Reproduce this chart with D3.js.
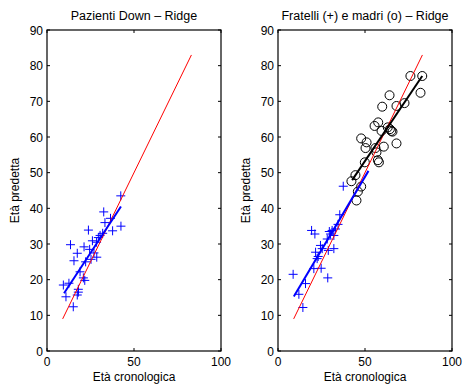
<!DOCTYPE html>
<html>
<head>
<meta charset="utf-8">
<script src="https://cdn.jsdelivr.net/npm/d3@7"></script>
<style>
  body { margin: 0; background: #fff; }
  text { font-family: "Liberation Sans", Arial, sans-serif; font-size: 12px; fill: #000; }
  text.title { font-size: 12.5px; }
</style>
</head>
<body>
<svg id="chart" width="464" height="385"></svg>
<script>
// tick labels
var xTicks = [0, 50, 100];
var yTicks = [0, 10, 20, 30, 40, 50, 60, 70, 80, 90];

// Pazienti Down (età cronologica, età predetta)
var downAge  = [42.4, 32.6, 33.3, 36.5, 42.5, 37.7, 23.8, 32.0, 30.5, 29.5, 26.1, 28.5, 13.5, 21.3, 17.4,
                28.6, 25.3, 15.5, 22.2, 19.0, 20.9, 21.7, 9.4, 12.6, 18.0, 10.9, 17.4, 18.0, 15.1, 24.5, 27.0];
var downPred = [43.5, 39.0, 36.0, 37.2, 35.0, 33.7, 33.9, 33.0, 32.4, 31.8, 30.9, 30.5, 29.8, 29.2, 27.4,
                26.3, 25.7, 25.3, 25.0, 22.2, 20.5, 19.8, 18.5, 19.0, 17.3, 15.2, 15.7, 16.5, 12.4, 28.5, 27.5];

// Fratelli (+)
var sibAge  = [37.5, 35.5, 19.3, 21.2, 31.1, 33.0, 30.2, 32.1, 28.3, 24.4, 25.4, 32.1, 28.9, 21.6, 23.1,
               22.5, 20.6, 24.8, 8.7, 28.6, 15.8, 12.0, 14.3, 34.5, 29.5];
var sibPred = [46.2, 38.2, 33.8, 32.8, 33.8, 34.2, 32.8, 32.4, 31.4, 29.6, 28.7, 28.7, 28.2, 27.7, 26.5,
               25.9, 23.1, 23.2, 21.5, 20.5, 18.9, 15.9, 12.2, 35.5, 33.5];

// madri (o)
var motherAge  = [82.9, 76.1, 81.9, 64.1, 59.9, 68.1, 72.7, 57.6, 55.5, 59.5, 64.3, 65.1, 65.8, 63.1, 47.8,
                  50.9, 50.3, 60.8, 68.1, 56.0, 56.6, 57.4, 58.0, 49.9, 44.5, 42.2, 45.9, 47.8, 45.1];
var motherPred = [77.1, 77.1, 72.4, 71.7, 68.5, 68.7, 69.5, 64.1, 63.1, 61.7, 62.2, 61.7, 61.5, 62.7, 59.6,
                  58.5, 56.9, 57.3, 58.2, 56.9, 55.7, 53.5, 52.9, 52.9, 49.3, 47.6, 44.7, 46.1, 42.2];

// rette
var idealX = [9, 83];
var downFitX = [9.8, 42.5],  downFitY = [16.2, 40.5];
var sibFitX = [9.1, 52.0],   sibFitY = [15.3, 50.5];
var motherFitX = [42.6, 82.9], motherFitY = [47.9, 77.1];

var svg = d3.select("#chart");
var axTop = 30, axBottom = 351;

function zip(a, b) { return a.map(function(v, i){ return [v, b[i]]; }); }

function panel(left, right, title) {
    var x = d3.scaleLinear().domain([0, 100]).range([left, right]);
    var y = d3.scaleLinear().domain([0, 90]).range([axBottom, axTop]);
    var g = svg.append("g");

    // box + inward ticks
    g.append("rect").attr("x", left).attr("y", axTop)
        .attr("width", right - left).attr("height", axBottom - axTop)
        .attr("fill", "none").attr("stroke", "#000").attr("stroke-width", 1.2);
    xTicks.forEach(function(t){
        g.append("line").attr("x1", x(t)).attr("x2", x(t)).attr("y1", axBottom).attr("y2", axBottom - 3).attr("stroke", "#000");
        g.append("line").attr("x1", x(t)).attr("x2", x(t)).attr("y1", axTop).attr("y2", axTop + 3).attr("stroke", "#000");
        g.append("text").attr("x", x(t)).attr("y", axBottom + 15).attr("text-anchor", "middle").text(t);
    });
    yTicks.forEach(function(t){
        g.append("line").attr("x1", left).attr("x2", left + 3).attr("y1", y(t)).attr("y2", y(t)).attr("stroke", "#000");
        g.append("line").attr("x1", right).attr("x2", right - 3).attr("y1", y(t)).attr("y2", y(t)).attr("stroke", "#000");
        g.append("text").attr("x", left - 4).attr("y", y(t) + 4.5).attr("text-anchor", "end").text(t);
    });

    g.append("text").attr("class", "title").attr("x", (left + right) / 2).attr("y", 20).attr("text-anchor", "middle").text(title);
    g.append("text").attr("x", (left + right) / 2).attr("y", 381).attr("text-anchor", "middle").text("Età cronologica");
    g.append("text").attr("transform", "translate(" + (left - 28) + "," + ((axTop + axBottom) / 2) + ") rotate(-90)")
        .attr("text-anchor", "middle").text("Età predetta");

    return {g: g, x: x, y: y};
}

function plus(p, pts) {
    p.g.append("g").selectAll("path").data(pts).enter().append("path")
        .attr("d", function(d){
            var cx = p.x(d[0]), cy = p.y(d[1]);
            return "M" + (cx - 4.5) + "," + cy + "H" + (cx + 4.5) + "M" + cx + "," + (cy - 4.5) + "V" + (cy + 4.5);
        })
        .attr("stroke", "#0000ff").attr("stroke-width", 1).attr("fill", "none");
}

function circles(p, pts) {
    p.g.append("g").selectAll("circle").data(pts).enter().append("circle")
        .attr("cx", function(d){ return p.x(d[0]); })
        .attr("cy", function(d){ return p.y(d[1]); })
        .attr("r", 4.5).attr("fill", "none").attr("stroke", "#000").attr("stroke-width", 1);
}

function line(p, xs, ys, color, w) {
    var l = d3.line().x(function(d){ return p.x(d[0]); }).y(function(d){ return p.y(d[1]); });
    p.g.append("path").attr("d", l(zip(xs, ys))).attr("stroke", color).attr("stroke-width", w).attr("fill", "none");
}

// pannello sinistro
var p1 = panel(47, 221, "Pazienti Down \u2013 Ridge");
plus(p1, zip(downAge, downPred));
line(p1, idealX, idealX, "#ff0000", 1);
line(p1, downFitX, downFitY, "#0000ff", 2);

// pannello destro
var p2 = panel(278, 452, "Fratelli (+) e madri (o) \u2013 Ridge");
plus(p2, zip(sibAge, sibPred));
circles(p2, zip(motherAge, motherPred));
line(p2, idealX, idealX, "#ff0000", 1);
line(p2, sibFitX, sibFitY, "#0000ff", 2);
line(p2, motherFitX, motherFitY, "#000", 2);
</script>
</body>
</html>
